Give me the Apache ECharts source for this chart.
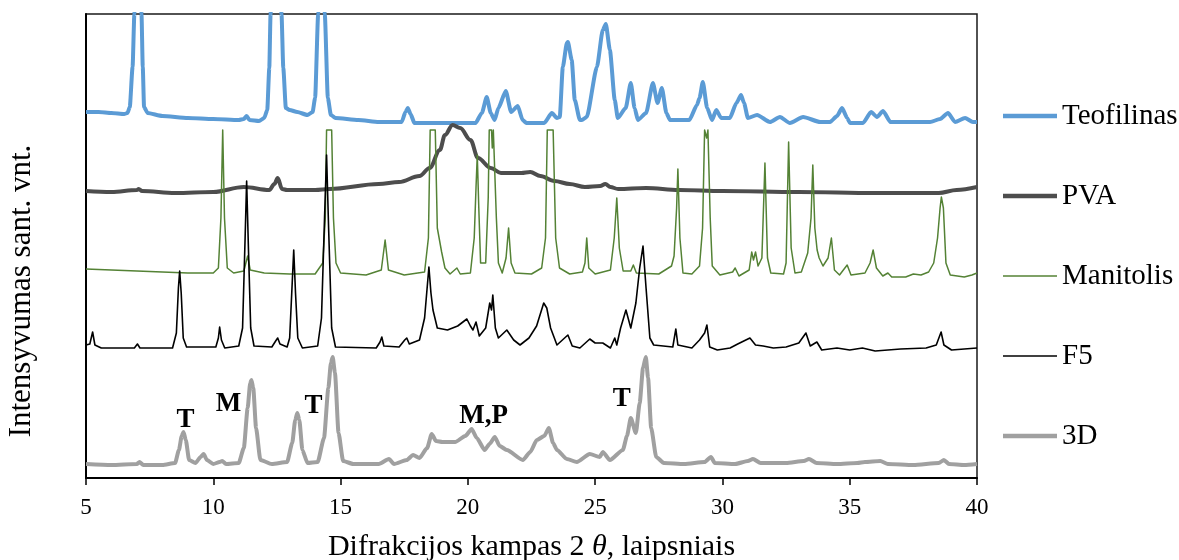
<!DOCTYPE html>
<html>
<head>
<meta charset="utf-8">
<script src="https://cdn.jsdelivr.net/npm/echarts@6/dist/echarts.min.js"></script>
<style>
  html, body { margin: 0; padding: 0; background: #fff; }
  #chart { width: 1179px; height: 560px; }
</style>
</head>
<body>
<div id="chart"></div>
<script>
// XRD patterns: [2θ (deg), intensity in arbitrary units, traces offset vertically]
const teofilinas = [
  [5.0,366],[5.5,366],[6.0,365],[6.5,364],[6.63,365],[6.72,371],[6.83,411],[6.9,464],[7.04,750],
  [7.18,464],[7.23,411],[7.28,371],[7.42,365],[8.0,362],[9.0,360],[10.0,359],[11.0,358],[11.2,359],
  [11.31,362],[11.42,358],[11.8,357],[12.0,360],[12.12,368],[12.2,410],[12.25,464],[12.47,800],
  [12.68,464],[12.75,410],[12.85,370],[13.0,368],[13.3,366],[13.7,363],[13.9,366],[14.0,380],
  [14.12,464],[14.26,700],[14.38,464],[14.5,380],[14.62,363],[14.8,360],[15.7,358],[16.5,356],
  [17.4,356],[17.55,366],[17.64,370],[17.75,364],[17.9,355],[20.3,355],[20.55,365],[20.74,381],
  [20.9,365],[21.05,358],[21.2,370],[21.49,387],[21.7,366],[21.96,372],[22.15,358],[22.3,355],
  [23.0,355],[23.3,365],[23.5,360],[23.61,361],[23.73,411],[23.89,435],[23.93,436],[24.08,418],
  [24.2,378],[24.4,358],[24.48,358],[24.67,361],[25.07,411],[25.3,448],[25.42,454],[25.58,428],
  [25.77,378],[25.89,360],[26.2,370],[26.4,395],[26.55,370],[26.68,358],[27.0,365],[27.27,395],
  [27.45,375],[27.62,390],[27.8,365],[27.94,358],[28.7,358],[29.0,373],[29.1,380],[29.23,396],
  [29.4,370],[29.59,358],[29.76,368],[29.95,360],[30.29,360],[30.55,375],[30.73,383],[30.85,375],
  [31.0,360],[31.36,363],[31.87,356],[32.26,361],[32.65,355],[33.17,361],[33.84,356],[34.23,356],
  [34.5,362],[34.7,370],[34.9,360],[35.01,355],[35.52,355],[35.84,366],[36.07,361],[36.31,367],
  [36.6,356],[38.16,356],[38.55,359],[38.86,365],[39.14,356],[39.53,360],[39.84,356],[40.0,356]
];

const pva = [
  [5.0,287],[6.0,286],[7.0,288],[7.07,289],[7.2,287],[8.5,285],[10.0,286],[11.2,291],[12.2,288],
  [12.4,294],[12.53,300],[12.7,289],[12.9,288],[14.0,288],[14.57,289],[16.5,294],[17.3,296],
  [18.1,302],[18.5,310],[18.9,328],[19.1,343],[19.4,353],[19.7,350],[20.1,338],[20.4,320],
  [20.9,310],[21.3,305],[22.1,305],[22.45,306],[22.85,302],[23.4,297],[24.0,294],[24.6,291],
  [25.2,292],[25.4,294],[25.6,291],[25.9,289],[27.0,290],[28.3,288],[30.0,287],[33.0,286],
  [36.0,285],[37.0,285],[38.5,285],[39.2,288],[40.0,291]
];

const manitolis = [
  [5.0,209],[6.0,208],[7.0,207],[8.0,206],[9.0,205],[10.0,205],[10.2,210],[10.3,260],[10.37,348],
  [10.44,260],[10.55,210],[10.8,205],[11.2,207],[11.35,222],[11.45,208],[12.0,205],[13.0,204],
  [14.0,204],[14.3,215],[14.4,260],[14.45,348],[14.65,348],[14.72,260],[14.82,215],[15.0,205],
  [16.0,203],[16.6,208],[16.75,238],[16.88,208],[17.5,203],[18.3,206],[18.45,240],[18.52,348],
  [18.72,348],[18.8,250],[18.97,226],[19.1,210],[19.3,204],[19.57,210],[19.7,204],[20.1,205],
  [20.25,240],[20.32,290],[20.37,323],[20.43,270],[20.5,215],[20.7,215],[20.8,280],[20.84,348],
  [20.93,348],[20.96,330],[21.0,348],[21.07,348],[21.12,260],[21.2,215],[21.35,205],[21.5,220],
  [21.6,250],[21.7,215],[21.85,205],[22.5,204],[22.9,210],[23.05,240],[23.12,348],[23.35,348],
  [23.45,240],[23.6,210],[24.0,204],[24.5,206],[24.6,215],[24.67,240],[24.75,210],[25.0,204],
  [25.6,208],[25.75,240],[25.85,280],[25.95,230],[26.1,207],[26.4,207],[26.5,213],[26.62,205],
  [27.5,204],[28.0,212],[28.1,222],[28.2,270],[28.25,309],[28.33,240],[28.45,205],[28.8,204],
  [29.1,212],[29.22,250],[29.3,348],[29.38,340],[29.43,348],[29.52,260],[29.6,212],[29.9,203],
  [30.4,206],[30.5,210],[30.65,202],[31.05,208],[31.15,226],[31.22,218],[31.3,226],[31.4,212],
  [31.55,220],[31.67,315],[31.77,220],[31.9,205],[32.4,204],[32.5,215],[32.6,336],[32.7,230],
  [32.85,205],[33.1,206],[33.35,225],[33.48,260],[33.55,313],[33.63,250],[33.72,228],[33.8,220],
  [33.95,212],[34.15,220],[34.28,240],[34.4,208],[34.6,203],[34.9,213],[35.05,203],[35.6,205],
  [35.8,215],[35.92,228],[36.05,210],[36.3,202],[36.5,205],[36.65,201],[37.2,201],[37.5,204],
  [37.8,203],[38.1,206],[38.3,215],[38.45,240],[38.55,270],[38.6,281],[38.68,270],[38.78,215],
  [38.95,203],[39.5,201],[39.8,203],[40.0,205]
];

const f5 = [
  [5.0,133],[5.15,134],[5.26,146],[5.35,133],[5.6,130],[6.5,130],[6.9,130],[7.02,134],[7.12,130],
  [8.4,130],[8.55,145],[8.63,190],[8.68,207],[8.74,185],[8.82,140],[8.95,131],[10.1,131],[10.2,140],
  [10.25,151],[10.32,138],[10.45,130],[11.0,132],[11.15,150],[11.25,240],[11.31,297],[11.38,230],
  [11.47,150],[11.6,132],[12.3,131],[12.45,137],[12.53,140],[12.62,134],[12.9,131],[13.0,140],
  [13.1,195],[13.16,228],[13.23,185],[13.32,140],[13.5,130],[14.1,132],[14.25,160],[14.37,260],
  [14.45,323],[14.53,250],[14.65,150],[14.8,131],[16.4,130],[16.55,136],[16.62,141],[16.7,132],
  [17.3,131],[17.52,138],[17.6,140],[17.7,134],[18.1,138],[18.3,160],[18.4,190],[18.47,211],
  [18.55,185],[18.63,168],[18.8,150],[19.2,148],[19.6,152],[19.96,159],[20.1,152],[20.2,148],
  [20.32,156],[20.45,142],[20.7,150],[20.86,175],[20.93,168],[20.98,183],[21.08,150],[21.2,140],
  [21.53,148],[21.8,138],[22.05,133],[22.4,140],[22.7,152],[22.98,175],[23.1,170],[23.25,150],
  [23.5,133],[23.8,140],[23.93,143],[24.1,132],[24.4,130],[24.79,139],[25.0,135],[25.3,135],
  [25.6,130],[25.77,140],[25.85,133],[26.0,150],[26.21,168],[26.4,150],[26.6,175],[26.75,210],
  [26.88,232],[27.0,190],[27.15,140],[27.3,133],[28.05,131],[28.17,149],[28.25,133],[28.8,130],
  [29.1,138],[29.3,145],[29.39,153],[29.5,131],[29.8,128],[30.3,130],[30.6,134],[31.08,140],
  [31.3,133],[31.6,132],[32.0,130],[32.5,131],[33.0,135],[33.28,145],[33.45,132],[33.71,136],
  [33.9,128],[34.5,130],[35.0,128],[35.5,130],[36.0,127],[37.0,129],[38.0,130],[38.4,133],
  [38.59,146],[38.7,133],[39.0,128],[39.5,129],[40.0,130]
];

const d3 = [
  [5.0,14],[6.0,13],[7.0,14],[7.1,16],[7.25,13],[8.0,13],[8.5,15],[8.65,28],[8.76,42],[8.83,46],
  [8.92,38],[9.05,18],[9.3,15],[9.5,21],[9.62,24],[9.75,18],[10.0,14],[10.25,16],[10.35,17],
  [10.5,14],[11.0,15],[11.2,30],[11.35,70],[11.45,95],[11.5,98],[11.57,90],[11.68,50],[11.85,18],
  [12.3,14],[12.9,16],[13.1,35],[13.22,58],[13.3,65],[13.38,58],[13.5,28],[13.7,15],[14.1,16],
  [14.35,40],[14.52,90],[14.62,115],[14.69,121],[14.78,105],[14.92,45],[15.1,17],[15.5,14],
  [16.5,14],[16.9,19],[17.1,14],[17.6,18],[17.85,23],[18.1,20],[18.4,30],[18.58,44],[18.75,37],
  [19.0,36],[19.5,36],[19.9,42],[20.15,49],[20.35,40],[20.66,28],[20.85,34],[21.06,41],[21.25,32],
  [21.53,28],[22.16,18],[22.45,26],[22.71,38],[23.0,42],[23.18,50],[23.35,35],[23.5,28],[23.89,19],
  [24.28,16],[24.79,24],[25.18,21],[25.3,26],[25.58,18],[26.09,28],[26.25,42],[26.4,60],[26.6,45],
  [26.75,75],[26.88,110],[26.99,121],[27.08,100],[27.2,50],[27.4,21],[27.7,15],[28.5,14],[29.3,16],
  [29.55,21],[29.7,15],[30.5,14],[31.0,17],[31.2,19],[31.5,15],[32.5,15],[33.2,17],[33.4,19],
  [33.7,15],[34.5,14],[35.3,15],[35.6,16],[36.2,17],[36.5,14],[37.5,13],[38.5,15],[38.7,18],
  [38.9,14],[39.5,13],[40.0,14]
];

const seriesNames = ['Teofilinas', 'PVA', 'Manitolis', 'F5', '3D'];
const xTicks = [5, 10, 15, 20, 25, 30, 35, 40];

// Phase markers over the printed sample: [label, 2θ, intensity]
const phaseLabels = [
  ['T', 8.91, 58],
  ['M', 10.6, 74],
  ['T', 13.94, 72],
  ['M,P', 20.62, 62],
  ['T', 26.05, 79]
];

const serif = '"Liberation Serif", "Times New Roman", serif';
const chart = echarts.init(document.getElementById('chart'), null, { renderer: 'canvas' });

const styles = [
  { color: '#5B9BD5', width: 4, smooth: 0.2 },
  { color: '#4D4D4D', width: 4, smooth: 0.35 },
  { color: '#548235', width: 1.5, smooth: false },
  { color: '#000000', width: 1.6, smooth: false },
  { color: '#A0A0A0', width: 4, smooth: 0.2 }
];
const datasets = [teofilinas, pva, manitolis, f5, d3];

// Legend keys: plain strokes with the series' own thickness
const legendIcon = w => 'path://M0,0L50,0L50,' + w + 'L0,' + w + 'Z';

const lineSeries = seriesNames.map((name, i) => ({
  name,
  type: 'line',
  data: datasets[i],
  showSymbol: false,
  symbol: 'none',
  clip: true,
  smooth: styles[i].smooth,
  smoothMonotone: 'x',
  lineStyle: { color: styles[i].color, width: styles[i].width, join: 'round' },
  itemStyle: { color: styles[i].color },
  emphasis: { disabled: true },
  z: 2 + i
}));

chart.setOption({
  animation: false,
  backgroundColor: '#fff',
  grid: {
    left: 86, right: 202, top: 14, bottom: 82,
    show: true, borderColor: '#1a1a1a', borderWidth: 1.5,
    outerBoundsMode: 'none'
  },
  legend: {
    orient: 'vertical',
    left: 998,
    top: 96,
    itemWidth: 54,
    itemHeight: 14,
    itemGap: 50,
    selectedMode: false,
    data: seriesNames.map((n, i) => ({ name: n, icon: legendIcon(styles[i].width) })),
    textStyle: { fontFamily: serif, fontSize: 29, color: '#000', lineHeight: 30 }
  },
  xAxis: {
    type: 'value',
    min: 5, max: 40, interval: 5,
    axisLine: { show: true, onZero: false, lineStyle: { color: '#000', width: 2 } },
    axisTick: { show: true, inside: false, length: 7, lineStyle: { color: '#000', width: 1.5 } },
    splitLine: { show: false },
    axisLabel: {
      margin: 18, color: '#000', fontFamily: serif, fontSize: 23,
      customValues: xTicks, formatter: v => String(v)
    },
    name: 'Difrakcijos kampas 2 {it|θ}, laipsniais',
    nameLocation: 'middle',
    nameGap: 54,
    nameTextStyle: {
      color: '#000', fontFamily: serif, fontSize: 30,
      rich: { it: { fontStyle: 'italic', fontFamily: serif, fontSize: 30, color: '#000' } }
    }
  },
  yAxis: {
    type: 'value',
    min: 0, max: 464,
    axisLine: { show: true, lineStyle: { color: '#000', width: 2 } },
    axisTick: { show: false },
    axisLabel: { show: false },
    splitLine: { show: false }
  },
  graphic: [{
    type: 'text',
    x: 22, y: 291,
    rotation: Math.PI / 2,
    style: {
      text: 'Intensyvumas sant. vnt.',
      font: '31px ' + serif,
      fill: '#000',
      align: 'center',
      verticalAlign: 'middle'
    }
  }],
  series: lineSeries.concat([{
    name: 'phases',
    type: 'scatter',
    data: phaseLabels.map(p => ({ name: p[0], value: [p[1], p[2]] })),
    symbolSize: 0,
    itemStyle: { color: '#000', opacity: 1 },
    silent: true,
    z: 10,
    label: {
      show: true,
      position: [0, 0],
      align: 'center',
      verticalAlign: 'middle',
      formatter: p => p.name,
      fontFamily: serif,
      fontWeight: 'bold',
      fontSize: 27,
      color: '#000',
      opacity: 1,
      textBorderWidth: 0
    }
  }])
});
</script>
</body>
</html>
